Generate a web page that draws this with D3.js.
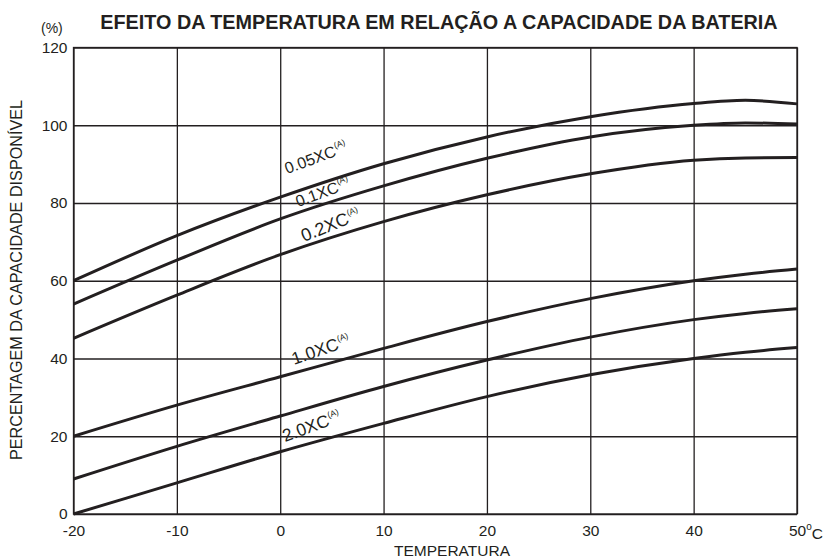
<!DOCTYPE html>
<html>
<head>
<meta charset="utf-8">
<script src="https://cdn.jsdelivr.net/npm/d3@7"></script>
<style>
  body { margin: 0; background: #fff; }
  svg { display: block; font-family: "Liberation Sans", Arial, sans-serif; }
</style>
</head>
<body>
<svg id="chart" width="825" height="558"></svg>
<script>
// ---- data ----
const temps = [-20, -10, 0, 10, 20, 30, 40, 45, 50];
const cap005 = [60, 71.6, 81.5, 90.1, 97.0, 102.2, 105.6, 106.4, 105.5];
const cap01  = [54, 65.3, 75.9, 84.4, 91.5, 97.0, 100.0, 100.6, 100.3];
const cap02  = [45.2, 56.3, 66.7, 75.2, 82.1, 87.5, 91.0, 91.6, 91.7];
const cap10  = [20, 28, 35.3, 42.6, 49.5, 55.4, 60, 61.7, 63];
const cap15  = [9, 17.4, 25.2, 32.8, 39.6, 45.5, 50, 51.6, 52.8];
const cap20  = [0, 8, 16, 23.3, 30.2, 35.8, 40, 41.6, 42.8];
const seriesList = [cap005, cap01, cap02, cap10, cap15, cap20];
const xTicks = [-20, -10, 0, 10, 20, 30, 40, 50];
const yTicks = [0, 20, 40, 60, 80, 100, 120];
const title = "EFEITO DA TEMPERATURA EM RELAÇÃO A CAPACIDADE DA BATERIA";
const xLabel = "TEMPERATURA";
const yLabel = "PERCENTAGEM DA CAPACIDADE DISPONÍVEL";
const curveLabels = ["0.05XC", "0.1XC", "0.2XC", "1.0XC", "2.0XC"];
const labelSup = "(A)";

// ---- layout ----
const svg = d3.select("#chart");
const L = 73.5, R = 797, T = 47.5, B = 514;
const x = d3.scaleLinear().domain([-20, 50]).range([L, R]);
const y = d3.scaleLinear().domain([0, 120]).range([B, T]);
const ink = "#231f20";

// grid
const gx = svg.append("g").attr("transform", `translate(0,${B})`)
  .call(d3.axisBottom(x).tickValues(xTicks).tickSize(-(B - T)).tickPadding(7)
    .tickFormat(d => d));
gx.select(".domain").remove();
gx.selectAll("line").attr("stroke", ink).attr("stroke-width", 1.3);
gx.selectAll("text").attr("font-size", 15.5).attr("fill", ink)
  .attr("font-family", "Liberation Sans, Arial, sans-serif").attr("dy", "0.95em");
// last tick label with °C
gx.selectAll(".tick").filter(d => d === 50).select("text").each(function () {
  const t = d3.select(this);
  t.text("50");
  const w = this.getComputedTextLength();
  t.attr("text-anchor", "start").attr("x", -w / 2);
  t.append("tspan").attr("font-size", 10).attr("dy", "-0.55em").text("o");
  t.append("tspan").attr("dy", "0.55em").attr("font-size", 15.5).text("C");
});

const gy = svg.append("g").attr("transform", `translate(${L},0)`)
  .call(d3.axisLeft(y).tickValues(yTicks).tickSize(-(R - L)).tickPadding(6));
gy.select(".domain").remove();
gy.selectAll("line").attr("stroke", ink).attr("stroke-width", 1.3);
gy.selectAll("text").attr("font-size", 15.5).attr("fill", ink)
  .attr("font-family", "Liberation Sans, Arial, sans-serif");

// frame
svg.append("rect").attr("x", L).attr("y", T).attr("width", R - L).attr("height", B - T)
  .attr("fill", "none").attr("stroke", ink).attr("stroke-width", 1.3);

// curves
const line = d3.line().x((d, i) => x(temps[i])).y(d => y(d)).curve(d3.curveMonotoneX);
svg.append("g").selectAll("path").data(seriesList).join("path")
  .attr("d", line).attr("fill", "none").attr("stroke", ink)
  .attr("stroke-width", 3).attr("stroke-linejoin", "round");

// curve labels
const labelPos = [
  { x: 287, y: 174, a: -20, fs: 16 },
  { x: 298, y: 207, a: -20, fs: 16 },
  { x: 304, y: 242, a: -22, fs: 18 },
  { x: 294, y: 365, a: -19, fs: 17.5 },
  { x: 285, y: 442, a: -20, fs: 17.5 }
];
curveLabels.forEach((lab, i) => {
  const p = labelPos[i];
  const t = svg.append("text")
    .attr("transform", `translate(${p.x},${p.y}) rotate(${p.a})`)
    .attr("font-size", p.fs).attr("fill", ink);
  t.append("tspan").text(lab);
  t.append("tspan").attr("font-size", 8.5).attr("dy", "-0.9em").attr("dx", "0.5").text(labelSup);
});

// title & labels
svg.append("text").attr("x", 439).attr("y", 29).attr("text-anchor", "middle")
  .attr("font-size", 19.8).attr("font-weight", "bold").attr("fill", ink).text(title);
svg.append("text").attr("x", 41).attr("y", 33).attr("font-size", 14).attr("fill", ink).text("(%)");
svg.append("text").attr("x", 452).attr("y", 556).attr("text-anchor", "middle")
  .attr("font-size", 15.5).attr("fill", ink).text(xLabel);
svg.append("text").attr("transform", "translate(22,280) rotate(-90)").attr("text-anchor", "middle")
  .attr("font-size", 16.2).attr("fill", ink).text(yLabel);
</script>
</body>
</html>
